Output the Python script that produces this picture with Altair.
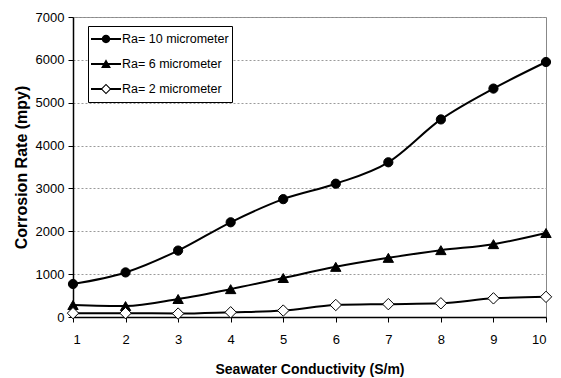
import altair as alt
import pandas as pd

# ---- data ----
conductivity = [1, 2, 3, 4, 5, 6, 7, 8, 9, 10]
ra10 = [770, 1040, 1550, 2210, 2750, 3110, 3610, 4610, 5330, 5950]
ra6 = [280, 255, 420, 650, 910, 1170, 1380, 1560, 1700, 1960]
ra2 = [90, 90, 80, 110, 150, 280, 300, 320, 435, 470]
series_names = ["Ra= 10 micrometer", "Ra= 6 micrometer", "Ra= 2 micrometer"]
y_ticks = [0, 1000, 2000, 3000, 4000, 5000, 6000, 7000]

rows = []
for name, vals in zip(series_names, [ra10, ra6, ra2]):
    for xv, yv in zip(conductivity, vals):
        rows.append({"x": xv, "y": yv, "series": name})
df = pd.DataFrame(rows)

FONT = "Liberation Sans"

# legend symbols: line + marker as custom paths (unit box -1..1)
LINE = "M-1,-0.07H1V0.07H-1Z"
CIRCLE = "M0.28,0A0.28,0.28 0 1,1 -0.28,0A0.28,0.28 0 1,1 0.28,0Z"
TRI = "M0,-0.32L0.33,0.26L-0.33,0.26Z"
DIAM = ("M-1,-0.07H-0.3V0.07H-1Z M0.3,-0.07H1V0.07H0.3Z "
        "M0,-0.35L0.35,0L0,0.35L-0.35,0Z M0,-0.25L-0.25,0L0,0.25L0.25,0Z")
legend_paths = [LINE + " " + CIRCLE, LINE + " " + TRI, DIAM]

x_enc = alt.X("x:Q", scale=alt.Scale(domain=[1, 10], nice=False, zero=False),
              axis=alt.Axis(title="Seawater Conductivity (S/m)", values=conductivity,
                            format="d", grid=False, domainColor="black", domainWidth=1.5,
                            tickColor="black", tickSize=5, labelPadding=11,
                            labelFont=FONT, labelFontSize=13, labelColor="black",
                            titleFont=FONT, titleFontSize=14, titleFontWeight="bold",
                            titleColor="black", titleX=236.5, titleY=52,
                            titleBaseline="middle"))
y_enc = alt.Y("y:Q", scale=alt.Scale(domain=[0, 7000], nice=False),
              axis=alt.Axis(title="Corrosion Rate (mpy)", values=y_ticks, format="d",
                            grid=True, gridDash=[2, 2], gridColor="#9a9a9a", gridWidth=1,
                            domainColor="black", domainWidth=1.5, tickColor="black",
                            tickSize=5, labelPadding=4, labelFont=FONT, labelFontSize=13,
                            labelColor="black", titleFont=FONT, titleFontSize=16,
                            titleFontWeight="bold", titleColor="black", titleAngle=-90,
                            titleX=-52, titleY=150, titleBaseline="middle"))

lines = alt.Chart(df).mark_line(interpolate="monotone", color="black",
                                strokeWidth=2).encode(x=x_enc, y=y_enc, detail="series:N")

points = alt.Chart(df).mark_point(stroke="black", strokeWidth=1, opacity=1).encode(
    x=x_enc, y=y_enc,
    shape=alt.Shape("series:N", scale=alt.Scale(domain=series_names,
                    range=["circle", "triangle-up", "diamond"]), legend=None),
    fill=alt.Fill("series:N", scale=alt.Scale(domain=series_names,
                  range=["black", "black", "white"]), legend=None),
    size=alt.Size("series:N", scale=alt.Scale(domain=series_names,
                  range=[85, 130, 100]), legend=None),
)

legend_layer = alt.Chart(df).transform_filter("false").mark_point(
    filled=True, color="black", opacity=1, strokeWidth=0).encode(
    x=x_enc, y=y_enc,
    shape=alt.Shape("series:N", scale=alt.Scale(domain=series_names, range=legend_paths),
                    legend=alt.Legend(title=None, orient="none", legendX=15, legendY=9,
                                      fillColor="white", strokeColor="black",
                                      padding=3, symbolSize=900, symbolFillColor="black",
                                      symbolStrokeWidth=0, labelFont=FONT,
                                      labelFontSize=12.5, labelColor="black",
                                      labelOffset=1, rowPadding=5, clipHeight=20)),
)

chart = alt.layer(lines, points, legend_layer).resolve_scale(
    shape="independent"
).properties(
    width=473, height=300,
    autosize=alt.AutoSizeParams(type="none"),
    padding={"left": 73, "top": 17, "right": 15, "bottom": 61},
    background="white",
).configure_view(stroke="#888888", strokeWidth=1)

chart.save("out.html", embed_options={"renderer": "svg", "actions": False})
